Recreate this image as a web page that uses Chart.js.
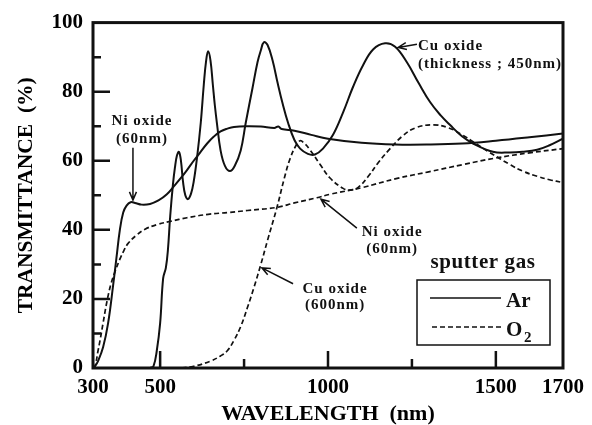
<!DOCTYPE html>
<html>
<head>
<meta charset="utf-8">
<script src="https://cdn.jsdelivr.net/npm/chart.js@4.4.1/dist/chart.umd.min.js"></script>
<style>
html, body { margin: 0; padding: 0; background: #fff; }
</style>
</head>
<body>
<canvas id="myChart" width="592" height="425"></canvas>
<script>
var serif = "'Liberation Serif', 'Times New Roman', serif";
Chart.defaults.color = '#000';
Chart.defaults.font.family = serif;

// wavelength (nm) and transmittance (%) for each film
var niArWl = [300, 306, 315, 330, 345, 360, 370, 380, 390, 400, 412, 425, 445, 470, 495, 520, 540, 560, 580, 600, 620, 640, 660, 680, 700, 720, 760, 800, 840, 852, 862, 900, 950, 1000, 1100, 1200, 1300, 1400, 1500, 1600, 1700];
var niArT = [0, 0.5, 2, 6, 13, 24, 32, 40, 45, 47, 48, 47.8, 47.3, 47.5, 48.5, 50.3, 52.5, 54.8, 57.3, 60, 62.5, 65, 67, 68.5, 69.3, 69.8, 70, 69.9, 69.5, 69.9, 69.2, 68.7, 67.5, 66.4, 65.2, 64.7, 64.7, 65, 65.8, 66.8, 67.9];

var cuArWl = [470, 480, 490, 500, 509, 517, 523, 530, 538, 544, 550, 556, 562, 568, 575, 583, 592, 600, 610, 621, 630, 637, 643, 650, 657, 663, 669, 680, 693, 708, 722, 740, 755, 775, 790, 800, 809, 820, 835, 850, 865, 881, 900, 917, 940, 961, 985, 1015, 1045, 1075, 1104, 1135, 1170, 1200, 1235, 1270, 1304, 1335, 1363, 1400, 1432, 1491, 1542, 1580, 1623, 1660, 1700];
var cuArT = [0, 0.5, 5, 13, 26, 29, 34, 44, 53, 58, 61.5, 62.6, 60, 54, 50, 48.9, 50.5, 54, 61, 71, 82, 89, 91.7, 89, 82, 76, 71, 63, 58.5, 57, 58.5, 63, 71, 81, 88.5, 92, 94.3, 93.5, 89, 82.5, 76.5, 71, 66, 63.5, 62, 61.8, 63.5, 67.5, 74, 81.5, 87.6, 92.3, 94, 93, 88.5, 82.5, 77, 73.2, 70.4, 67, 65, 62.6, 62.4, 62.6, 63.2, 64.5, 66.4];

var niO2Wl = [300, 306, 315, 321, 330, 342, 354, 366, 380, 392, 404, 430, 455, 490, 532, 580, 643, 700, 760, 848, 900, 967, 1006, 1100, 1206, 1300, 1402, 1500, 1600, 1700];
var niO2T = [0, 0.5, 5, 8, 13, 19.5, 24.5, 28, 31.5, 34, 36, 38.5, 40.2, 41.5, 42.5, 43.5, 44.5, 45, 45.6, 46.5, 47.8, 49.3, 50.3, 52.2, 54.9, 56.8, 58.9, 60.8, 62.3, 63.5];

var cuO2Wl = [540, 559, 600, 650, 680, 700, 720, 740, 760, 780, 800, 820, 848, 870, 887, 905, 917, 930, 946, 976, 1006, 1045, 1065, 1090, 1120, 1150, 1185, 1220, 1260, 1313, 1360, 1400, 1432, 1480, 1542, 1580, 1623, 1660, 1700];
var cuO2T = [0, 0, 0.5, 2, 3.5, 5, 8, 12, 17.5, 23.5, 30, 37, 46.5, 55, 60.6, 64.5, 65.8, 65, 63.2, 59, 55, 52, 51.5, 52.3, 55.5, 59.5, 63.5, 67, 69.5, 70.4, 69.5, 67.5, 65.5, 62.5, 58.9, 57, 55.5, 54.5, 53.7];

var xTicks = [300, 500, 750, 1000, 1250, 1500, 1700];
var xLabels = [300, 500, 1000, 1500, 1700];
var xMajor = [500, 1000, 1500];
var xMinor = [750, 1250];
var yTicks = [0, 10, 20, 30, 40, 50, 60, 70, 80, 90, 100];
var yLabels = [0, 20, 40, 60, 80, 100];
var yMajor = [20, 40, 60, 80];
var yMinor = [10, 30, 50, 70, 90];

// callouts: text lines with baselines, and arrow tail -> head, all in (nm, %)
var notes = [
    {lines: ['Ni oxide', '(60nm)'], x: 446, y: [70.4, 65.2], align: 'center', arrow: [419, 63.8, 419, 48.6]},
    {lines: ['Cu oxide', '(thickness ; 450nm)'], x: 1268, y: [92.2, 86.8], align: 'left', arrow: [1265, 93.7, 1209, 92.8]},
    {lines: ['Ni oxide', '(60nm)'], x: 1191, y: [38.2, 33.3], align: 'center', arrow: [1086, 40.5, 979, 48.9]},
    {lines: ['Cu oxide', '(600nm)'], x: 1021, y: [21.8, 17], align: 'center', arrow: [896, 24.4, 803, 29]}
];

function toPoints(wl, t) {
    return wl.map(function (w, i) { return {x: w, y: t[i]}; });
}

function curve(label, wl, t, dashed) {
    return {
        label: label,
        data: toPoints(wl, t),
        borderColor: '#111',
        borderWidth: dashed ? 1.7 : 2,
        borderDash: dashed ? [5, 3] : [],
        pointRadius: 0,
        fill: false,
        tension: 0.4
    };
}

function arrow(ctx, x1, y1, x2, y2) {
    var ang = Math.atan2(y2 - y1, x2 - x1), h = 9;
    ctx.beginPath();
    ctx.moveTo(x1, y1);
    ctx.lineTo(x2, y2);
    ctx.moveTo(x2 - h * Math.cos(ang - 0.4), y2 - h * Math.sin(ang - 0.4));
    ctx.lineTo(x2, y2);
    ctx.lineTo(x2 - h * Math.cos(ang + 0.4), y2 - h * Math.sin(ang + 0.4));
    ctx.stroke();
}

var decor = {
    id: 'decor',
    afterDatasetsDraw: function (chart) {
        var ctx = chart.ctx, a = chart.chartArea;
        var xs = chart.scales.x, ys = chart.scales.y;
        ctx.save();
        ctx.strokeStyle = '#111';
        ctx.fillStyle = '#111';

        // inward tick marks
        ctx.lineWidth = 2.5;
        ctx.beginPath();
        xMajor.forEach(function (v) { var p = xs.getPixelForValue(v); ctx.moveTo(p, a.bottom); ctx.lineTo(p, a.bottom - 17); });
        xMinor.forEach(function (v) { var p = xs.getPixelForValue(v); ctx.moveTo(p, a.bottom); ctx.lineTo(p, a.bottom - 9); });
        yMajor.forEach(function (v) { var p = ys.getPixelForValue(v); ctx.moveTo(a.left, p); ctx.lineTo(a.left + 17, p); });
        yMinor.forEach(function (v) { var p = ys.getPixelForValue(v); ctx.moveTo(a.left, p); ctx.lineTo(a.left + 8, p); });
        ctx.stroke();

        // frame
        ctx.lineWidth = 3;
        ctx.strokeRect(a.left, a.top, a.right - a.left, a.bottom - a.top);

        // callouts
        ctx.font = 'bold 15px ' + serif;
        ctx.letterSpacing = '1px';
        ctx.textBaseline = 'alphabetic';
        ctx.lineWidth = 1.5;
        notes.forEach(function (n) {
            ctx.textAlign = n.align;
            n.lines.forEach(function (s, i) {
                ctx.fillText(s, xs.getPixelForValue(n.x), ys.getPixelForValue(n.y[i]));
            });
            arrow(ctx, xs.getPixelForValue(n.arrow[0]), ys.getPixelForValue(n.arrow[1]),
                xs.getPixelForValue(n.arrow[2]), ys.getPixelForValue(n.arrow[3]));
        });

        // legend box
        var bx = a.right - 146, by = a.bottom - 88;
        ctx.letterSpacing = '0.6px';
        ctx.font = 'bold 21px ' + serif;
        ctx.textAlign = 'center';
        ctx.fillText('sputter gas', bx + 66, by - 12);
        ctx.letterSpacing = '0px';
        ctx.lineWidth = 1.5;
        ctx.strokeRect(bx, by, 133, 65);
        ctx.beginPath();
        ctx.moveTo(bx + 13, by + 18);
        ctx.lineTo(bx + 84, by + 18);
        ctx.stroke();
        ctx.setLineDash([5, 3]);
        ctx.beginPath();
        ctx.moveTo(bx + 15, by + 47);
        ctx.lineTo(bx + 84, by + 47);
        ctx.stroke();
        ctx.setLineDash([]);
        ctx.textAlign = 'left';
        ctx.fillText('Ar', bx + 89, by + 27);
        ctx.fillText('O', bx + 89, by + 56);
        ctx.font = 'bold 15px ' + serif;
        ctx.fillText('2', bx + 107, by + 62);
        ctx.restore();
    }
};

var ctx = document.getElementById('myChart').getContext('2d');
var chart = new Chart(ctx, {
    type: 'line',
    data: {
        datasets: [
            curve('Ni oxide Ar', niArWl, niArT, false),
            curve('Cu oxide Ar', cuArWl, cuArT, false),
            curve('Ni oxide O2', niO2Wl, niO2T, true),
            curve('Cu oxide O2', cuO2Wl, cuO2T, true)
        ]
    },
    options: {
        responsive: false,
        animation: false,
        layout: {padding: {top: 20, right: 29, left: 0, bottom: 0}},
        plugins: {legend: {display: false}, tooltip: {enabled: false}},
        scales: {
            x: {
                type: 'linear',
                min: 300,
                max: 1700,
                grid: {display: false, drawTicks: false},
                border: {display: false},
                afterBuildTicks: function (s) { s.ticks = xTicks.map(function (v) { return {value: v}; }); },
                afterFit: function (s) { s.height = 57; },
                ticks: {
                    autoSkip: false,
                    maxRotation: 0,
                    padding: 7,
                    font: {size: 21, weight: 'bold'},
                    callback: function (v) { return xLabels.indexOf(v) >= 0 ? String(v) : ''; }
                },
                title: {
                    display: true,
                    text: 'WAVELENGTH  (nm)',
                    font: {size: 22, weight: 'bold', lineHeight: 1},
                    padding: {top: 0, bottom: 0}
                }
            },
            y: {
                min: 0,
                max: 100,
                grid: {display: false, drawTicks: false},
                border: {display: false},
                afterBuildTicks: function (s) { s.ticks = yTicks.map(function (v) { return {value: v}; }); },
                afterFit: function (s) { s.width = 93; },
                ticks: {
                    autoSkip: false,
                    padding: 10,
                    font: {size: 21, weight: 'bold'},
                    callback: function (v) { return yLabels.indexOf(v) >= 0 ? String(v) : ''; }
                },
                title: {
                    display: true,
                    text: 'TRANSMITTANCE  (%)',
                    font: {size: 21.5, weight: 'bold', lineHeight: 1},
                    padding: {top: 16, bottom: 0}
                }
            }
        }
    },
    plugins: [decor]
});
</script>
</body>
</html>
